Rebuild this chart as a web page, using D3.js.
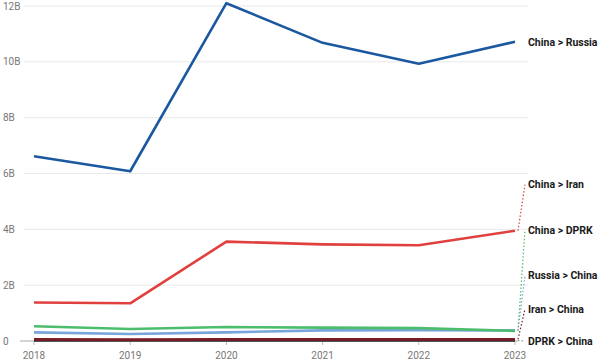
<!DOCTYPE html>
<html>
<head>
<meta charset="utf-8">
<script src="https://cdnjs.cloudflare.com/ajax/libs/d3/7.8.5/d3.min.js"></script>
<style>
  body { margin: 0; background: #fff; }
  svg text { font-family: Roboto, "Noto Sans", sans-serif; }
</style>
</head>
<body>
<svg id="chart" width="600" height="364"></svg>
<script>
var years = [2018, 2019, 2020, 2021, 2022, 2023];
var yTicks = [0, 2, 4, 6, 8, 10, 12];

var chinaRussia = [6.62, 6.08, 12.1, 10.68, 9.93, 10.72];
var chinaIran   = [1.38, 1.35, 3.56, 3.46, 3.43, 3.95];
var chinaDprk   = [0.53, 0.43, 0.5, 0.48, 0.46, 0.36];
var russiaChina = [0.31, 0.25, 0.31, 0.38, 0.39, 0.38];
var iranChina   = [0.06, 0.05, 0.06, 0.06, 0.06, 0.06];
var dprkChina   = [0.02, 0.02, 0.02, 0.02, 0.02, 0.02];

var seriesNames  = ["China > Russia", "China > Iran", "China > DPRK", "Russia > China", "Iran > China", "DPRK > China"];
var seriesValues = [chinaRussia, chinaIran, chinaDprk, russiaChina, iranChina, dprkChina];
var seriesColors = ["#1b58a0", "#e0413f", "#4cbd6c", "#78a6da", "#7a1b25", "#2b2b2b"];
// label positions (in B) where the end labels were pushed apart
var labelAt = [10.72, 5.6, 3.98, 2.36, 1.15, 0.0];

var svg = d3.select("#chart");

var x = d3.scalePoint().domain(years).range([34, 515]);
var y = d3.scaleLinear().domain([0, 12]).range([341, 6]);

// gridlines
svg.append("g").selectAll("line")
   .data(yTicks.filter(function(d) { return d > 0; }))
   .enter().append("line")
   .attr("x1", 24).attr("x2", 528)
   .attr("y1", function(d) { return y(d); })
   .attr("y2", function(d) { return y(d); })
   .attr("stroke", "#e9e9e9")
   .attr("stroke-width", 1);

svg.append("g").selectAll("text")
   .data(yTicks)
   .enter().append("text")
   .attr("x", 3)
   .attr("y", function(d) { return y(d) + 3.5; })
   .attr("font-size", 10)
   .attr("fill", "#777")
   .text(function(d) { return d === 0 ? "0" : d + "B"; });

// baseline + ticks
svg.append("line")
   .attr("x1", 20).attr("x2", 518)
   .attr("y1", y(0)).attr("y2", y(0))
   .attr("stroke", "#aaa").attr("stroke-width", 1);

svg.append("g").selectAll("line")
   .data(years)
   .enter().append("line")
   .attr("x1", function(d) { return x(d); })
   .attr("x2", function(d) { return x(d); })
   .attr("y1", y(0)).attr("y2", y(0) + 4)
   .attr("stroke", "#bbb");

svg.append("g").selectAll("text")
   .data(years)
   .enter().append("text")
   .attr("x", function(d) { return x(d); })
   .attr("y", 359)
   .attr("text-anchor", "middle")
   .attr("font-size", 10)
   .attr("fill", "#777")
   .text(function(d) { return d; });

var makeLine = d3.line()
                 .x(function(d, i) { return x(years[i]); })
                 .y(function(d) { return y(d); });

// leader lines
svg.append("g").selectAll("line")
   .data(seriesNames)
   .enter().append("line")
   .attr("x1", function(d, i) { return x(2023) + 3; })
   .attr("y1", function(d, i) { return y(seriesValues[i][5]); })
   .attr("x2", 525)
   .attr("y2", function(d, i) { return y(labelAt[i]); })
   .attr("stroke", function(d, i) { return i === 5 ? "#999" : seriesColors[i]; })
   .attr("stroke-width", 1.2)
   .attr("stroke-dasharray", "1.5,2")
   .style("display", function(d, i) { return i === 0 ? "none" : null; });

// lines, drawn bottom series first
var order = [5, 4, 3, 2, 1, 0];
svg.append("g").selectAll("path")
   .data(order)
   .enter().append("path")
   .attr("fill", "none")
   .attr("stroke", function(i) { return seriesColors[i]; })
   .attr("stroke-width", 2.6)
   .attr("stroke-linejoin", "round")
   .attr("d", function(i) { return makeLine(seriesValues[i]); });

svg.append("g").selectAll("text")
   .data(seriesNames)
   .enter().append("text")
   .attr("x", 528)
   .attr("y", function(d, i) { return y(labelAt[i]) + 3.8; })
   .attr("font-size", 10.5)
   .attr("font-weight", "bold")
   .attr("fill", "#1a1a1a")
   .text(function(d) { return d; });
</script>
</body>
</html>
